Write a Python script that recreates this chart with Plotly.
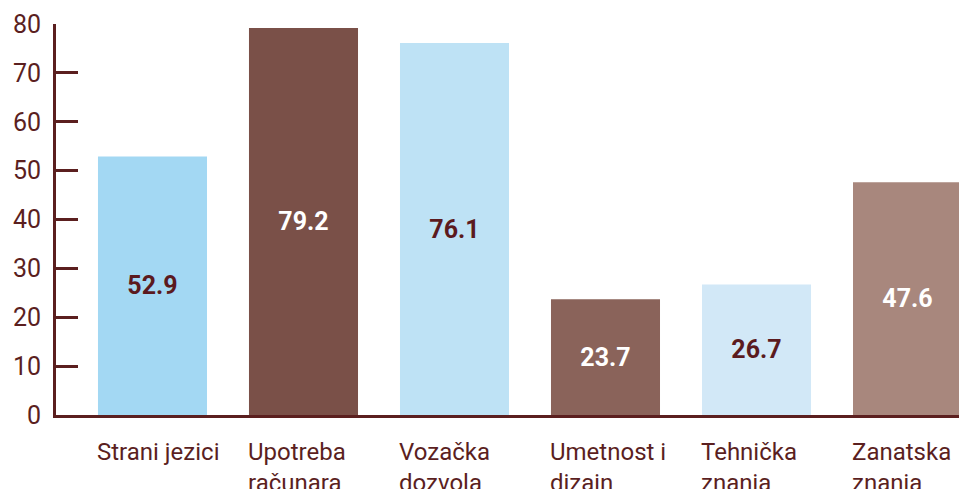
import plotly.graph_objects as go

categories = ["Strani jezici", "Upotreba<br>računara", "Vozačka<br>dozvola",
              "Umetnost i<br>dizajn", "Tehnička<br>znanja", "Zanatska<br>znanja"]
values = [52.9, 79.2, 76.1, 23.7, 26.7, 47.6]
bar_colors = ["#a3d8f3", "#7a5048", "#bee2f5", "#8a635a", "#d2e8f7", "#a8877d"]
text_colors = ["#5b1a1e", "#ffffff", "#5b1a1e", "#ffffff", "#5b1a1e", "#ffffff"]
y_ticks = [0, 10, 20, 30, 40, 50, 60, 70, 80]

DARK = "#5b1f1f"
FONT = "Roboto"
BAR_W = 0.722

xs = list(range(len(categories)))

fig = go.Figure()
fig.add_trace(go.Bar(
    x=xs, y=values, width=BAR_W,
    marker=dict(color=bar_colors, line=dict(width=0)),
    text=[f"{v:.1f}" for v in values],
    textposition="inside", insidetextanchor="middle",
    textfont=dict(family=FONT, size=25, color=text_colors, weight="bold"),
    textangle=0,
    hoverinfo="skip",
))

for i, c in enumerate(categories):
    fig.add_annotation(
        x=i - BAR_W / 2, xref="x", y=0, yref="paper",
        text=c, showarrow=False, xanchor="left", yanchor="top", align="left",
        yshift=-21, xshift=-3,
        font=dict(family=FONT, size=24, color=DARK),
    )

fig.update_layout(
    width=959, height=489,
    margin=dict(l=56, r=0, t=24, b=74),
    plot_bgcolor="white", paper_bgcolor="white",
    showlegend=False,
    uniformtext=dict(mode=False),
    xaxis=dict(range=[-0.639, 5.341], showgrid=False, zeroline=False,
               showline=True, linecolor=DARK, linewidth=3,
               showticklabels=False, ticks="", fixedrange=True,
               automargin=False),
    yaxis=dict(range=[0, 80], tickvals=y_ticks, showgrid=False, zeroline=False,
               showline=True, linecolor=DARK, linewidth=3,
               ticks="inside", ticklen=22, tickwidth=3, tickcolor=DARK,
               tickfont=dict(family=FONT, size=25, color=DARK),
               ticklabelstandoff=7, fixedrange=True, automargin=False),
)

fig.write_html("out.html", config={"displayModeBar": False},
               post_script="document.body.style.margin='0';document.body.style.overflow='hidden';")
